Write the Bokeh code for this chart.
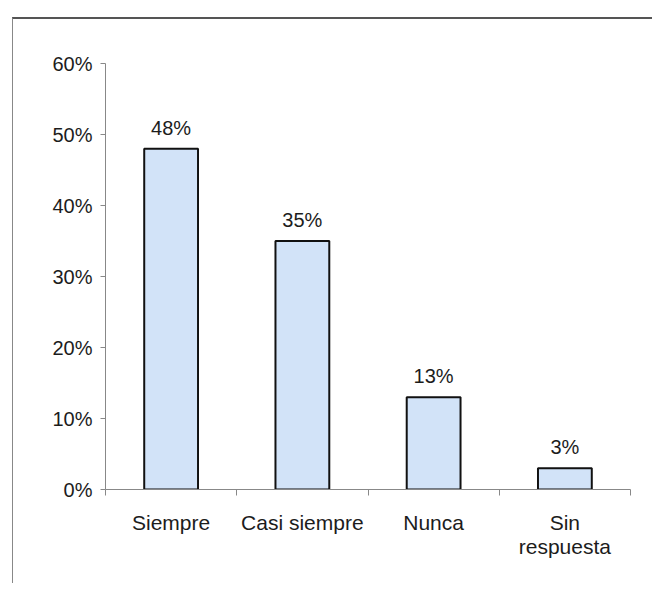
from bokeh.plotting import figure
from bokeh.models import ColumnDataSource, FixedTicker, NumeralTickFormatter, Range1d
from bokeh.core.properties import value
from bokeh.embed import file_html
from bokeh.resources import INLINE

categories = ["Siempre", "Casi siempre", "Nunca", "Sin\nrespuesta"]
values = [0.48, 0.35, 0.13, 0.03]
labels = ["48%", "35%", "13%", "3%"]
y_ticks = [0, 0.1, 0.2, 0.3, 0.4, 0.5, 0.6]

FONT = "Liberation Sans"
centers = [i + 0.5 for i in range(len(categories))]
bounds = [float(i) for i in range(len(categories) + 1)]
src = ColumnDataSource(dict(x=centers, top=values, label=labels))

p = figure(width=640, height=566, output_backend="svg", toolbar_location=None,
           x_range=Range1d(0, len(categories)), y_range=Range1d(0, 0.6),
           min_border_left=92, min_border_top=44, min_border_right=23,
           min_border_bottom=96)
p.margin = (17, 0, 0, 12)
p.styles = {"border-top": "2px solid #555555", "border-left": "1px solid #888888"}
p.outline_line_color = None
p.background_fill_color = "white"
p.border_fill_color = "white"
p.xgrid.visible = False
p.ygrid.visible = False

p.vbar(x="x", top="top", width=0.41, bottom=0, source=src,
       fill_color="#d2e3f8", line_color="#111111", line_width=2)

p.text(x="x", y="top", text="label", source=src, text_align="center",
       text_baseline="bottom", y_offset=-10, text_font=value(FONT),
       text_font_size="20px", text_color="#1c1c1c")

# y axis
ya = p.yaxis[0]
ya.ticker = FixedTicker(ticks=y_ticks)
ya.formatter = NumeralTickFormatter(format="0%")
ya.axis_line_color = "#888888"
ya.major_tick_line_color = "#888888"
ya.major_tick_out = 5
ya.major_tick_in = 0
ya.minor_tick_line_color = None
ya.major_label_standoff = 8
ya.major_label_text_font = FONT
ya.major_label_text_font_size = "20px"
ya.major_label_text_color = "#1c1c1c"

# x axis
xa = p.xaxis[0]
xa.ticker = FixedTicker(ticks=centers, minor_ticks=bounds)
xa.major_label_overrides = {c: lab for c, lab in zip(centers, categories)}
xa.axis_line_color = "#888888"
xa.major_tick_line_color = None
xa.major_tick_out = 0
xa.major_tick_in = 0
xa.minor_tick_line_color = "#888888"
xa.minor_tick_out = 6
xa.minor_tick_in = 0
xa.major_label_standoff = 15
xa.major_label_text_font = FONT
xa.major_label_text_font_size = "21px"
xa.major_label_text_color = "#1c1c1c"
xa.major_label_text_line_height = 1.05

open("out.html", "w").write(file_html(p, INLINE))
